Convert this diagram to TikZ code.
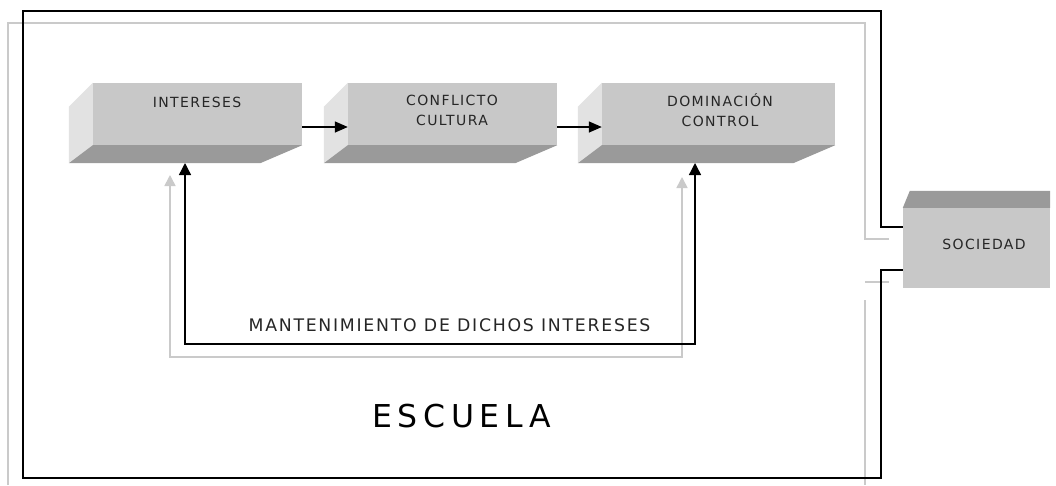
\documentclass[tikz,border=0pt]{standalone}
\usepackage{fontspec}
\setmainfont{DejaVu Sans}[LetterSpace=10]
\usetikzlibrary{arrows.meta,calc}
\definecolor{facefront}{HTML}{C8C8C8}
\definecolor{faceleft}{HTML}{E2E2E2}
\definecolor{facedark}{HTML}{9A9A9A}
\definecolor{lightline}{HTML}{CACACA}
\definecolor{txt}{HTML}{262626}
\tikzset{
  front/.style={draw=none, fill=facefront, minimum width=#1, minimum height=62pt, inner sep=0pt},
  lbl/.style={font=\fontsize{14}{20}\selectfont, text=txt, align=center, inner sep=0pt},
  blk/.style={draw=black, line width=1.4pt},
  gry/.style={draw=lightline, line width=1.6pt},
  arr/.style={blk, -{Triangle[length=13pt,width=11pt]}},
  arrb/.style={blk, {Triangle[length=12pt,width=12pt]}-{Triangle[length=12pt,width=12pt]}},
  arrg/.style={gry, {Triangle[length=11pt,width=11pt]}-{Triangle[length=11pt,width=11pt]}},
}
\begin{document}
\begin{tikzpicture}[x=1pt,y=-1pt]
\useasboundingbox (0,0) rectangle (1056,485);
\fill[white] (0,0) rectangle (1056,485);

% boxes
\node[front=209pt] (int) at (197.5,114) {};
\node[front=209pt] (con) at (452.5,114) {};
\node[front=233pt] (dom) at (718.5,114) {};
\foreach \b in {int,con,dom}{
  \fill[faceleft] (\b.north west) -- ++(-24,24) -- ++(0,56) -- (\b.south west) -- cycle;
  \fill[facedark] (\b.south west) -- ++(-24,18) -- ($(\b.south east)+(-42,18)$) -- (\b.south east) -- cycle;
}
\node[lbl] (intt) at (197,102) {INTERESES};
\node[lbl] (cont) at (452,110) {CONFLICTO\\CULTURA};
\node[lbl] (domt) at (720,110) {DOMINACIÓN\\CONTROL};

% sociedad
\node[draw=none, fill=facefront, minimum width=147pt, minimum height=80pt, inner sep=0pt] (soc) at (976.5,248) {};
\fill[facedark] (soc.north west) -- ++(7,-17) -- ($(soc.north east)+(0,-17)$) -- (soc.north east) -- cycle;
\node[lbl] (soct) at (984,244) {SOCIEDAD};

% frames
\coordinate (bk1) at (881,227);
\coordinate (bk2) at (881,270);
\coordinate (gr1) at (865,239);
\coordinate (gr2) at (865,282);
\draw[gry] (8,485) -- (8,23) -- (865,23) -- (gr1) -- (889,239);
\draw[gry] (gr2) -- (889,282);
\draw[gry] (865,300) -- (865,485);
\draw[blk] (bk1 -| soc.west) -- (bk1) -- (881,11) -- (23,11) -- (23,478) -- (881,478) -- (bk2) -- (bk2 -| soc.west);

% flow arrows
\draw[arr] ([yshift=-13pt]int.east) -- ([yshift=-13pt]con.west);
\draw[arr] ([yshift=-13pt]con.east) -- ([yshift=-13pt]dom.west);

% feedback loops
\coordinate (ga) at (170,175);
\coordinate (gb) at (682,177);
\draw[arrg] (ga) -- (170,357) -- (682,357) -- (gb);
\coordinate (ba) at (185,163);
\coordinate (bb) at (695,163);
\draw[arrb] (ba) -- (185,344) -- (695,344) -- (bb);
\node[lbl, font=\fontsize{17.3}{20}\selectfont] (mant) at (449.5,325) {MANTENIMIENTO DE DICHOS INTERESES};

\node[inner sep=0pt, font=\fontsize{31.5}{36}\addfontfeature{LetterSpace=18}\selectfont] (esc) at (461.5,416) {ESCUELA};
\end{tikzpicture}
\end{document}
